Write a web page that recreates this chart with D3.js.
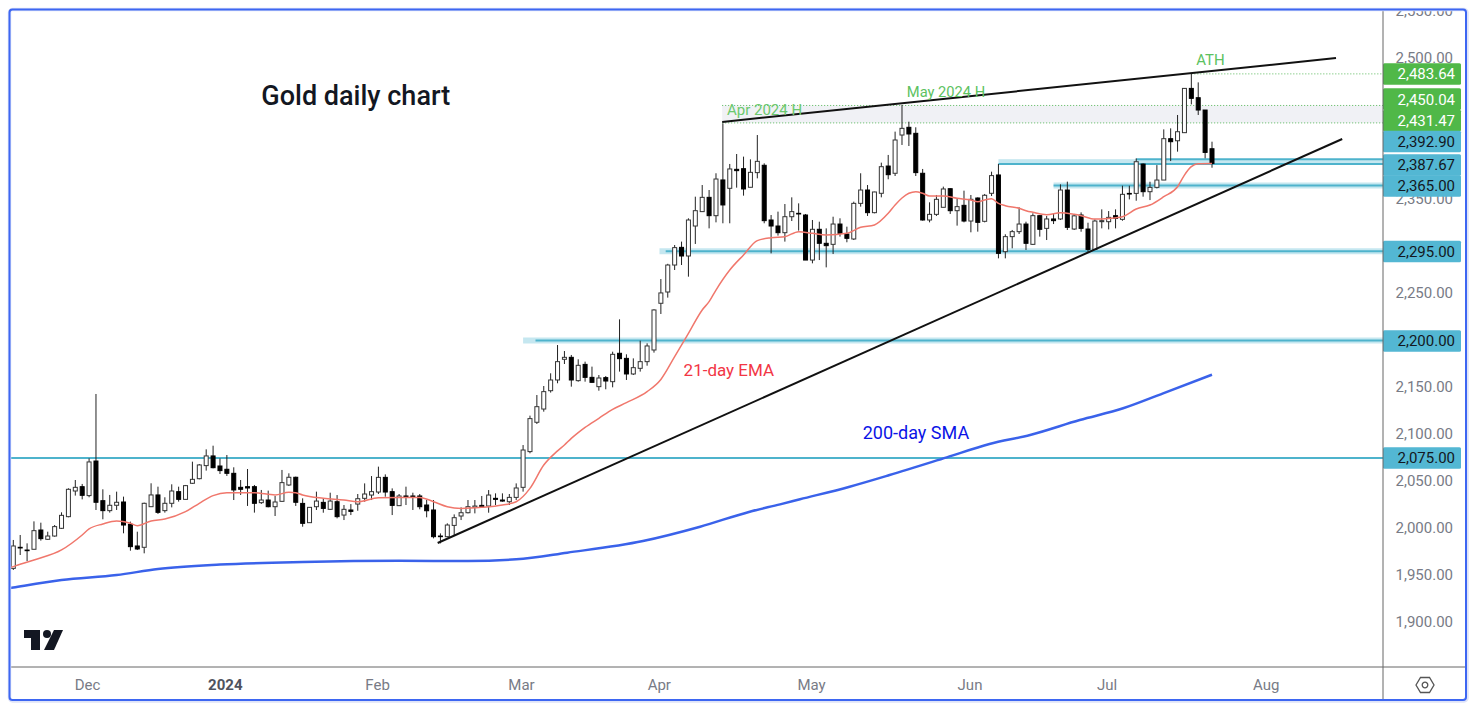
<!DOCTYPE html>
<html>
<head>
<meta charset="utf-8">
<script src="https://cdn.jsdelivr.net/npm/d3@7/dist/d3.min.js"></script>
<style>
  html, body { margin: 0; padding: 0; background: #fff; }
  svg { display: block; }
  text { font-family: Roboto, sans-serif; }
</style>
</head>
<body>
<svg id="chart" width="1482" height="714"></svg>
<script>
// daily candles (bar 0 is the leftmost one)
const opens = [
  1956.0,1978.4,1975.5,1976.3,1996.8,1986.9,1990.4,1998.6,2011.0,2038.3,2042.9,2033.4,2070.2,2028.0,2017.4,
  2023.1,2026.6,2002.8,1979.8,1978.4,2021.6,2034.1,2017.4,2025.2,2037.6,2029.4,2046.5,2051.4,2065.3,2075.6,
  2064.9,2061.4,2057.1,2042.2,2042.9,2042.9,2025.9,2028.7,2021.6,2027.3,2044.7,2052.9,2025.1,2004.6,2021.6,
  2026.2,2018.8,2026.9,2012.7,2018.1,2024.4,2030.5,2034.0,2037.2,2052.8,2037.6,2022.7,2033.0,2033.0,2033.0,
  2023.4,2018.1,1990.4,1989.7,2001.7,2011.7,2015.2,2020.9,2023.0,2022.3,2030.5,2028.7,2026.9,2031.5,2042.2,
  2080.2,2111.4,2125.5,2145.0,2156.4,2178.4,2180.5,2155.7,2173.0,2159.2,2149.3,2158.9,2154.6,2184.8,2179.4,
  2162.8,2168.8,2175.9,2188.3,2238.0,2250.0,2278.7,2297.5,2288.3,2320.2,2335.5,2350.7,2331.2,2369.2,2360.3,
  2380.5,2381.2,2361.4,2377.0,2384.8,2326.6,2320.2,2313.1,2330.1,2333.7,2331.9,2284.0,2316.7,2301.8,2300.7,
  2322.3,2311.7,2306.4,2344.3,2358.5,2334.4,2355.0,2384.0,2376.3,2417.0,2425.2,2418.8,2376.3,2326.6,2332.6,
  2340.1,2359.9,2336.5,2342.2,2325.5,2350.0,2325.2,2355.0,2374.5,2292.9,2308.9,2314.2,2322.3,2300.7,2331.2,
  2317.7,2327.7,2327.7,2358.5,2317.0,2331.9,2317.0,2295.3,2324.8,2324.8,2331.2,2327.3,2354.9,2354.9,2386.1,
  2356.7,2361.3,2369.1,2413.1,2410.9,2419.5,2466.6,2456.7,2443.6,2402.4
];
const highs = [
  1986.2,1991.5,1982.6,2006.0,2004.6,1995.0,2002.1,2015.6,2041.2,2050.0,2045.8,2073.0,2141.5,2040.1,2034.1,
  2037.6,2032.3,2005.7,1995.0,2025.9,2046.5,2042.9,2031.6,2045.4,2042.9,2044.7,2069.5,2067.0,2082.6,2086.5,
  2073.0,2076.6,2063.5,2050.0,2061.7,2044.7,2039.4,2038.7,2033.0,2060.7,2057.1,2053.6,2030.5,2020.9,2037.6,
  2030.5,2036.5,2034.0,2023.4,2024.4,2035.1,2046.4,2054.2,2064.2,2056.0,2041.1,2035.1,2042.9,2036.5,2035.1,
  2028.7,2028.7,1993.2,2003.9,2013.4,2020.9,2028.7,2028.7,2033.0,2039.3,2035.8,2035.8,2035.1,2046.4,2087.2,
  2118.5,2140.4,2150.0,2163.5,2193.6,2187.2,2183.0,2178.4,2175.9,2170.6,2161.7,2160.6,2186.5,2220.9,2183.7,
  2179.4,2198.2,2195.4,2231.6,2263.8,2280.0,2300.0,2303.6,2328.4,2351.4,2363.8,2358.5,2376.3,2429.4,2386.2,
  2396.8,2394.0,2391.1,2417.0,2386.9,2331.9,2335.5,2343.6,2350.7,2344.3,2333.0,2326.6,2324.8,2317.7,2330.1,
  2328.4,2319.5,2346.1,2376.3,2363.8,2356.7,2387.6,2395.8,2420.6,2449.0,2431.2,2425.2,2380.9,2345.4,2353.2,
  2362.1,2360.3,2349.7,2357.8,2353.2,2350.7,2354.3,2378.0,2386.2,2311.4,2316.0,2340.1,2324.8,2333.7,2331.9,
  2330.9,2333.7,2364.5,2367.4,2331.9,2334.7,2323.7,2327.3,2337.9,2336.1,2337.9,2363.1,2363.1,2392.1,2386.8,
  2367.3,2385.0,2423.0,2424.1,2438.3,2466.6,2481.9,2473.0,2443.6,2409.9
];
const lows = [
  1954.3,1970.2,1963.8,1976.3,1985.5,1986.2,1989.7,1997.9,2010.3,2033.4,2029.4,2031.6,2018.1,2008.2,2015.3,
  2018.1,1993.3,1974.8,1975.5,1972.0,2021.6,2013.9,2015.3,2020.9,2027.0,2029.4,2045.8,2050.7,2060.0,2062.4,
  2056.4,2054.3,2028.7,2034.1,2022.4,2015.3,2024.5,2020.9,2011.7,2027.0,2043.6,2022.4,2000.3,2004.6,2018.1,
  2015.2,2018.1,2009.2,2007.4,2012.7,2017.3,2026.9,2028.7,2035.1,2032.2,2012.7,2022.3,2023.4,2018.1,2018.8,
  2010.3,1987.9,1982.6,1989.0,1991.5,2007.4,2014.5,2014.5,2020.9,2015.2,2023.4,2026.9,2023.4,2028.7,2037.6,
  2078.4,2109.6,2122.7,2143.0,2152.9,2173.4,2149.3,2154.6,2154.6,2153.6,2145.0,2146.5,2148.6,2165.3,2156.4,
  2161.7,2165.3,2171.6,2185.5,2226.6,2244.0,2273.4,2278.7,2266.3,2301.1,2335.5,2317.7,2324.1,2323.1,2323.1,
  2361.0,2352.5,2361.4,2370.9,2323.1,2291.1,2310.0,2303.6,2325.5,2315.3,2284.0,2280.5,2284.0,2276.2,2290.4,
  2308.9,2302.9,2305.3,2340.8,2330.9,2333.7,2350.7,2369.9,2373.4,2406.4,2405.3,2373.4,2325.9,2324.1,2330.9,
  2340.1,2333.0,2320.6,2324.1,2313.5,2314.2,2324.1,2352.1,2285.8,2285.8,2296.5,2311.7,2294.7,2300.0,2308.9,
  2305.3,2322.3,2326.6,2316.0,2316.0,2314.1,2292.9,2295.3,2317.7,2316.6,2317.7,2325.8,2348.5,2347.1,2351.4,
  2347.8,2360.2,2369.1,2389.3,2399.3,2419.5,2449.6,2438.3,2392.2,2382.2
];
const closes = [
  1979.8,1977.7,1974.8,1996.1,1987.6,1990.4,2000.4,2012.4,2040.1,2042.2,2033.7,2069.2,2026.3,2017.4,2023.1,
  2026.3,2002.1,1979.1,1976.6,2025.2,2034.1,2015.6,2025.2,2038.3,2029.4,2044.0,2050.7,2066.0,2075.6,2063.1,
  2060.0,2057.1,2039.4,2040.1,2041.5,2025.2,2028.7,2021.6,2026.6,2047.2,2052.9,2026.3,2003.9,2020.9,2027.6,
  2019.8,2027.6,2011.0,2018.8,2016.6,2030.1,2035.1,2037.6,2052.8,2037.2,2023.0,2033.0,2031.9,2031.9,2021.6,
  2017.3,1989.7,1989.7,2002.1,2009.9,2015.2,2021.6,2022.3,2021.6,2034.0,2029.4,2027.6,2031.5,2041.5,2081.9,
  2115.3,2128.0,2144.0,2156.4,2175.9,2180.5,2156.4,2172.0,2159.2,2153.9,2158.5,2155.3,2183.7,2179.1,2162.8,
  2169.5,2175.9,2192.6,2230.9,2249.0,2278.7,2297.2,2288.3,2326.6,2336.5,2350.7,2331.2,2370.2,2342.6,2380.9,
  2379.1,2359.6,2377.3,2389.0,2325.9,2320.2,2313.1,2330.1,2335.5,2333.0,2284.0,2316.7,2301.8,2299.3,2322.3,
  2312.4,2307.1,2344.3,2358.5,2334.4,2356.4,2383.3,2374.8,2411.7,2424.1,2418.1,2377.0,2326.6,2332.6,2348.6,
  2359.6,2336.5,2340.8,2325.5,2348.6,2324.1,2352.9,2373.8,2291.1,2308.9,2314.2,2322.3,2301.8,2331.2,2316.7,
  2327.7,2325.9,2358.5,2318.8,2331.0,2317.7,2295.3,2325.5,2325.9,2329.4,2328.3,2353.9,2354.2,2388.6,2356.7,
  2361.3,2369.1,2413.1,2409.9,2420.5,2466.6,2456.0,2443.6,2398.5,2386.8
];

// moving averages, sampled at the bars where they could be read
const emaBars = [-0.5,0,3,7,10,11,13,15,17,18,20,22,25,27,29,31,35,38,40,41,42,45,48,50,53,56,59,61,63,65,68,71,73,75,77,
  79,80,81,82,83,85,87,89,92,94,96,98,100,101,102,104,106,108,110,112,114,116,118,121,123,125,127,128,129,130,131,132,133,135,137,139,
  140,141,142,143,144,146,147,148,150,152,154,155,157,159,161,163,165,167,169,170,171,172,174];
const emaValues = [1956.5,1957.8,1964.9,1975.6,1991.5,1997.9,2003.2,2006.4,2003.9,2001.4,2006.4,2008.5,2016.3,2025.2,2033.4,2036.5,2036.5,2034.1,2036.9,2036.5,2034.0,2030.5,2028.7,2026.9,2031.2,2031.5,2031.5,2026.9,2021.6,2019.8,2020.9,2023.4,2026.9,2041.1,2065.9,
  2081.0,2087.3,2094.3,2100.4,2106.0,2115.6,2125.2,2132.3,2144.0,2157.0,2181.2,2206.0,2230.9,2239.7,2252.1,2273.4,2289.4,2304.6,2307.8,2308.9,2314.2,2312.4,2310.6,2312.4,2318.8,2321.3,2333.7,2342.6,2350.0,2355.0,2356.7,2355.0,2352.1,2352.1,2349.7,2347.9,
  2346.1,2347.9,2349.3,2344.3,2341.8,2339.0,2336.5,2334.8,2332.3,2334.4,2332.6,2331.2,2327.6,2328.3,2330.1,2338.3,2342.5,2351.4,2362.0,2374.4,2383.3,2386.5,2386.8];
const smaBars = [-0.5,0,7,15,21,30,42,56,66,73,80.4,91.4,99.7,106.9,111.3,114.2,121.4,127.2,135.5,141.7,147.6,154.8,161.1,166.9,174];
const smaValues = [1935.0,1935.6,1943.6,1948.9,1955.3,1960.0,1962.8,1964.1,1963.8,1965.6,1972.7,1985.1,2000.3,2016.3,2024.1,2029.5,2042.9,2055.3,2074.1,2088.3,2097.9,2113.8,2126.3,2142.2,2162.0];

// horizontal levels and their price tags
const levelValues = [2392.90, 2387.67, 2365.00, 2295.00, 2200.00, 2075.00];
const levelStartBars = [163.0, 143.0, 151.0, 94.7, 75.8, -1];
const bandStartBars = [143.0, 143.0, 151.0, 93.8, 74.0, -1];
const highZoneValues = [2450.04, 2431.47];
const athValue = 2483.64;
const tagValues = [2483.64, 2450.04, 2431.47, 2392.90, 2387.67, 2365.00, 2295.00, 2200.00, 2075.00];
const tagKinds = ["high", "high", "high", "level", "level", "level", "level", "level", "level"];

// trend lines as [bar, price]
const upperTrend = [[102.9, 2430.9], [192.0, 2498.9]];
const lowerTrend = [[61.6, 1983.0], [192.9, 2412.8]];

// 2,450 2,400 2,300 and 2,200 sit behind the tags in the picture
const priceTicks = [2550, 2500, 2350, 2250, 2150, 2100, 2050, 2000, 1950, 1900];
const monthBars = [10.7, 30.7, 52.8, 73.7, 93.7, 115.8, 138.8, 158.7, 181.8];
const monthLabels = ["Dec", "2024", "Feb", "Mar", "Apr", "May", "Jun", "Jul", "Aug"];

const width = 1482, height = 714;
const plotRight = 1383, plotBottom = 667, frameLeft = 10, frameTop = 10, frameRight = 1466, frameBottom = 700;
// the drawn levels sit a hair under the axis tick text
const levelNudge = 1.5;
const tagNudge = [1.6, -4.8, -0.9, -16.2, 2.4, 2.1, 1.8, 2, 1.5];

const x = d3.scaleLinear().domain([0, 174]).range([13.3, 1212]);
const y = d3.scaleLinear().domain([1900, 2500]).range([621, 57]);

const svg = d3.select("#chart");

const defs = svg.append("defs");
defs.append("clipPath").attr("id", "plot-clip").append("rect")
  .attr("x", frameLeft).attr("y", frameTop)
  .attr("width", plotRight - frameLeft).attr("height", plotBottom - frameTop);
defs.append("clipPath").attr("id", "axis-clip").append("rect")
  .attr("x", plotRight).attr("y", frameTop)
  .attr("width", frameRight - plotRight).attr("height", plotBottom - frameTop);

const plot = svg.append("g").attr("clip-path", "url(#plot-clip)");

// grey zone between the april and may highs
plot.append("rect")
  .attr("x", x(102.9)).attr("width", plotRight - x(102.9))
  .attr("y", y(highZoneValues[0]) + levelNudge)
  .attr("height", y(highZoneValues[1]) - y(highZoneValues[0]))
  .attr("fill", "#f0f1f5");
plot.selectAll(".zone-line").data(highZoneValues).enter().append("line")
  .attr("x1", x(102.9)).attr("x2", plotRight)
  .attr("y1", d => y(d) + levelNudge).attr("y2", d => y(d) + levelNudge)
  .attr("stroke", "#57b85a").attr("stroke-width", 1).attr("stroke-dasharray", "1 2");
plot.append("line")
  .attr("x1", x(171)).attr("x2", plotRight)
  .attr("y1", y(athValue) + levelNudge).attr("y2", y(athValue) + levelNudge)
  .attr("stroke", "#57b85a").attr("stroke-width", 1).attr("stroke-dasharray", "1 2");

// teal levels: pale band first, the line over it
plot.append("rect")
  .attr("x", x(143)).attr("width", plotRight - x(143))
  .attr("y", y(levelValues[0]) + levelNudge).attr("height", y(levelValues[1]) - y(levelValues[0]))
  .attr("fill", "#c5e7f0");
plot.selectAll(".band").data(levelValues).enter().append("line")
  .attr("x1", (d, i) => x(bandStartBars[i])).attr("x2", plotRight)
  .attr("y1", d => y(d) + levelNudge).attr("y2", d => y(d) + levelNudge)
  .attr("stroke", "#c5e7f0").attr("stroke-width", (d, i) => (i < 2 || i === 5) ? 0 : 6);
plot.selectAll(".level").data(levelValues).enter().append("line")
  .attr("x1", (d, i) => x(levelStartBars[i])).attr("x2", plotRight)
  .attr("y1", d => y(d) + levelNudge).attr("y2", d => y(d) + levelNudge)
  .attr("stroke", "#4eb3cc").attr("stroke-width", 2);

// candles
const bars = d3.range(opens.length);
const candle = plot.selectAll(".candle").data(bars).enter().append("g").attr("class", "candle");
candle.append("line")
  .attr("x1", i => x(i)).attr("x2", i => x(i))
  .attr("y1", i => y(highs[i])).attr("y2", i => y(lows[i]))
  .attr("stroke", "#222").attr("stroke-width", 1);
candle.append("rect")
  .attr("x", i => x(i) - 2)
  .attr("width", 4)
  .attr("y", i => y(Math.max(opens[i], closes[i])))
  .attr("height", i => Math.max(0.6, Math.abs(y(opens[i]) - y(closes[i]))))
  .attr("fill", i => closes[i] >= opens[i] ? "#fff" : "#000")
  .attr("stroke", i => closes[i] >= opens[i] ? "#333" : "#000")
  .attr("stroke-width", 1);

const line = d3.line().x(d => x(d[0])).y(d => y(d[1]));

plot.append("path")
  .attr("d", line.curve(d3.curveMonotoneX)(emaBars.map((b, i) => [b, emaValues[i]])))
  .attr("fill", "none").attr("stroke", "#f0776c").attr("stroke-width", 1.5);
plot.append("path")
  .attr("d", line(smaBars.map((b, i) => [b, smaValues[i]])))
  .attr("fill", "none").attr("stroke", "#3a62ea").attr("stroke-width", 2.5);

const straight = d3.line().x(d => x(d[0])).y(d => y(d[1]));
[upperTrend, lowerTrend].forEach(t => {
  plot.append("path").attr("d", straight(t))
    .attr("fill", "none").attr("stroke", "#111").attr("stroke-width", 2);
});

// price axis
const yAxis = svg.append("g")
  .attr("clip-path", "url(#axis-clip)")
  .append("g")
  .attr("transform", `translate(${frameRight - 13},0)`)
  .call(d3.axisRight(y).tickValues(priceTicks).tickFormat(d3.format(",.2f")).tickSize(0));
yAxis.select(".domain").remove();
yAxis.selectAll("text")
  .attr("x", 0).attr("text-anchor", "end").attr("dy", "0.34em")
  .attr("fill", "#787b86").style("font-size", "15px").style("font-family", "Roboto, sans-serif");

// time axis
const xAxis = svg.append("g")
  .attr("transform", `translate(0,${plotBottom})`)
  .call(d3.axisBottom(x).tickValues(monthBars).tickFormat((d, i) => monthLabels[i]).tickSize(0).tickPadding(12));
xAxis.select(".domain").remove();
xAxis.selectAll("text")
  .attr("fill", (d, i) => monthLabels[i] === "2024" ? "#50535e" : "#787b86")
  .style("font-weight", (d, i) => monthLabels[i] === "2024" ? 700 : 400)
  .style("font-size", "15px").style("font-family", "Roboto, sans-serif");

// price tags
const tag = svg.selectAll(".tag").data(tagValues).enter().append("g").attr("class", "tag")
  .attr("transform", (d, i) => `translate(${plotRight},${y(d) + tagNudge[i]})`);
tag.append("rect")
  .attr("x", 0).attr("y", -10.8).attr("width", 78).attr("height", 21.6).attr("rx", 1.5)
  .attr("fill", (d, i) => tagKinds[i] === "high" ? "#50b848" : "#53b7d3");
tag.append("text")
  .attr("x", 72).attr("text-anchor", "end").attr("dy", "0.36em")
  .attr("fill", (d, i) => tagKinds[i] === "high" ? "#fff" : "#131722")
  .style("font-size", "15px")
  .text(d3.format(",.2f"));

// annotations
const notes = [
  { text: "Gold daily chart", bar: 36, price: 2459.5, size: 27, fill: "#131722", weight: 500 },
  { text: "21-day EMA", bar: 97.3, price: 2167, size: 17, fill: "#f23645", weight: 400 },
  { text: "200-day SMA", bar: 123.3, price: 2100, size: 18, fill: "#0b14e6", weight: 400 },
  { text: "Apr 2024 H", bar: 103.6, price: 2443.6, size: 15, fill: "#6cc96e", weight: 400 },
  { text: "May 2024 H", bar: 129.7, price: 2462.8, size: 14.7, fill: "#5cc25f", weight: 400 },
  { text: "ATH", bar: 171.7, price: 2496.8, size: 15, fill: "#5cc25f", weight: 400 }
];
svg.selectAll(".note").data(notes).enter().append("text").attr("class", "note")
  .attr("x", d => x(d.bar)).attr("y", d => y(d.price))
  .attr("dy", "0.36em")
  .attr("fill", d => d.fill)
  .style("font-size", d => d.size + "px")
  .style("font-weight", d => d.weight)
  .text(d => d.text);

// tradingview mark
const logo = svg.append("g").attr("fill", "#131722");
logo.append("path").attr("d", "M24 630H40V650H31V638H24Z");
logo.append("circle").attr("cx", 47).attr("cy", 634).attr("r", 4);
logo.append("path").attr("d", "M54 630H63L54 650H44Z");

// settings hexagon
const gear = svg.append("g").attr("transform", "translate(1425,685)").attr("fill", "none").attr("stroke", "#555").attr("stroke-width", 1.3);
gear.append("path").attr("d", "M-9 0L-4.5 -7.5H4.5L9 0L4.5 7.5H-4.5Z");
gear.append("circle").attr("r", 2.8);

// panel separators and frame
svg.append("line").attr("x1", plotRight).attr("x2", plotRight).attr("y1", frameTop).attr("y2", frameBottom)
  .attr("stroke", "#666").attr("stroke-width", 1);
svg.append("line").attr("x1", frameLeft).attr("x2", frameRight).attr("y1", plotBottom).attr("y2", plotBottom)
  .attr("stroke", "#666").attr("stroke-width", 1);
svg.append("rect")
  .attr("x", frameLeft - 0.5).attr("y", frameTop - 0.5)
  .attr("width", frameRight - frameLeft + 1.5).attr("height", frameBottom - frameTop + 1.5).attr("rx", 3)
  .attr("fill", "none").attr("stroke", "#dfe4f8").attr("stroke-width", 3.5);
svg.append("rect")
  .attr("x", frameLeft - 0.5).attr("y", frameTop - 0.5)
  .attr("width", frameRight - frameLeft + 0.5).attr("height", frameBottom - frameTop + 0.5).attr("rx", 3)
  .attr("fill", "none").attr("stroke", "#3d66f2").attr("stroke-width", 2);
</script>
</body>
</html>
